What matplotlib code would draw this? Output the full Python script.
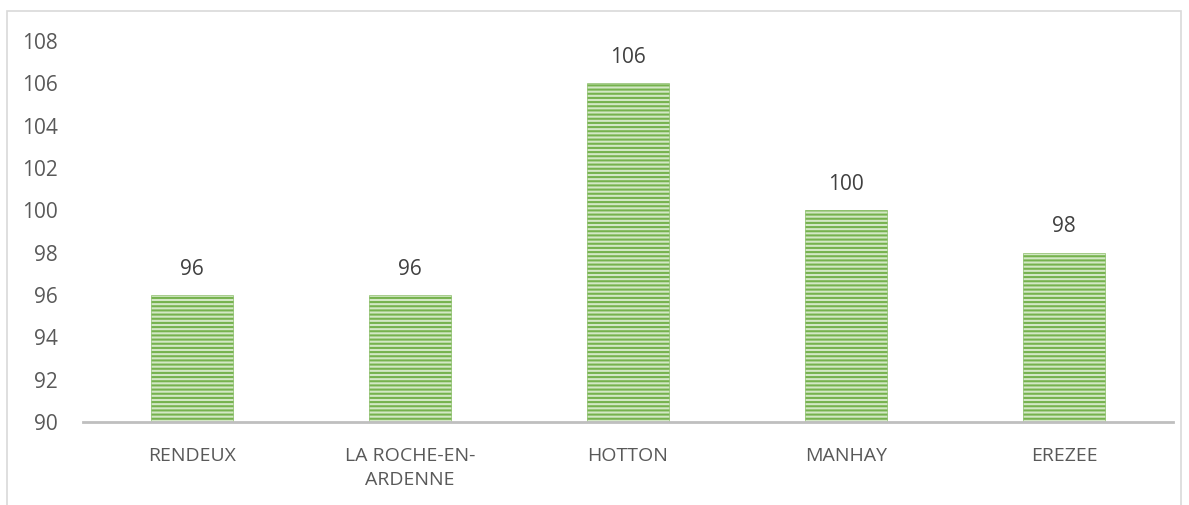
import matplotlib
matplotlib.use("Agg")
import matplotlib.pyplot as plt
from matplotlib.patches import Rectangle

categories = ["RENDEUX", "LA ROCHE-EN-\nARDENNE", "HOTTON", "MANHAY", "EREZEE"]
values = [96, 96, 106, 100, 98]
yticks = [90, 92, 94, 96, 98, 100, 102, 104, 106, 108]

plt.rcParams['font.family'] = ['Open Sans', 'DejaVu Sans']
plt.rcParams['hatch.linewidth'] = 1.5

W, H = 1189, 505
fig = plt.figure(figsize=(W/100, H/100), dpi=100)
fig.patch.set_facecolor('white')

# outer chart border
fig.patches.append(Rectangle((7/W, -0.05), (1181-7)/W, (H-11)/H + 0.05,
                             transform=fig.transFigure, fill=False,
                             edgecolor='#d9d9d9', linewidth=1.2))

ax = fig.add_axes([83/W, (H-422)/H, (1173-83)/W, (422-41)/H])
x = list(range(len(categories)))
bars = ax.bar(x, [v - 90 for v in values], bottom=90, width=0.38,
              color='#d3e8c5', edgecolor='#76b24e', linewidth=0.4, hatch='----')

ax.set_ylim(90, 108)
ax.set_xlim(-0.5, len(categories) - 0.5)
ax.set_yticks(yticks)
ax.set_yticklabels([str(t) for t in yticks], fontsize=15, color='#595959')
ax.set_xticks(x)
ax.set_xticklabels(categories, fontsize=14, color='#595959', linespacing=1.45)
ax.tick_params(axis='both', length=0)
ax.tick_params(axis='y', pad=18)
ax.tick_params(axis='x', pad=18)
for s in ['top', 'right', 'left']:
    ax.spines[s].set_visible(False)
ax.spines['bottom'].set_color('#bfbfbf')
ax.spines['bottom'].set_linewidth(2)

for xi, v in zip(x, values):
    ax.annotate(str(v), (xi, v), xytext=(0, 11), textcoords='offset points',
                ha='center', va='bottom', fontsize=15, color='#404040',
                annotation_clip=False)

fig.savefig("out.png", dpi=100, facecolor='white')
